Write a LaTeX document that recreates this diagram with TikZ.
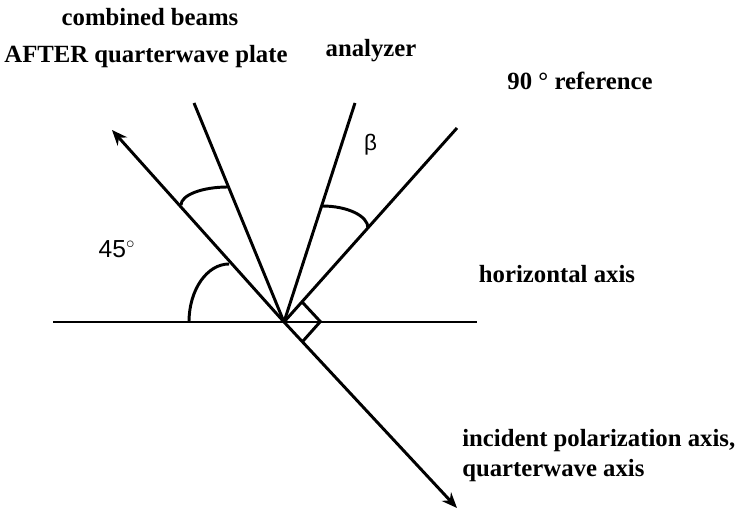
\documentclass[tikz,border=0pt]{standalone}
\usepackage{fontspec}
\setmainfont{Liberation Serif}
\newfontfamily\labsans{Liberation Sans}
\usetikzlibrary{arrows.meta,calc}

\begin{document}
\begin{tikzpicture}[x=0.025cm,y=0.025cm,
    ray/.style={line width=2.1pt},
    tip/.style={-{Stealth[length=11pt,width=9pt]}},
    lbl/.style={font=\fontsize{17.6}{20}\selectfont\bfseries,inner sep=0pt}]
    \useasboundingbox (0,0) rectangle (739,510);
    % centre and the ends of the axes
    \coordinate (O) at (284,188);
    \coordinate (hl) at (53,188);
    \coordinate (hr) at (477,188);
    \coordinate (inc) at (112,380);
    \coordinate (comb) at (194,407);
    \coordinate (anl) at (355,407);
    \coordinate (ref) at (457,382);
    \coordinate (qw) at (457,2);
    \draw[ray] (hl) -- (hr);
    \draw[ray,tip] (O) -- (inc);
    \draw[ray] (O) -- (comb);
    \draw[ray] (O) -- (anl);
    \draw[ray] (O) -- (ref);
    \draw[ray,tip] (O) -- (qw);
    % right angle and angle arcs
    \draw[ray] ($(O)+(48.3:27)$) -- ++(-47.1:27) -- ($(O)+(-47.1:27)$);
    \draw[ray] (189,188) arc[start angle=180,end angle=90,x radius=40,y radius=58];
    \draw[ray] (181,305) arc[start angle=180,end angle=90,x radius=47,y radius=18];
    \draw[ray] (322,304) arc[start angle=90,end angle=0,x radius=46,y radius=22];
    % labels
    \node[lbl,anchor=base] (cb1) at (150,484) {combined beams};
    \node[lbl,anchor=base] (cb2) at (146,447) {AFTER quarterwave plate};
    \node[lbl,anchor=base] (an) at (371,453) {analyzer};
    \node[lbl,anchor=base] (rf) at (580,420) {90 ° reference};
    \node[lbl,anchor=base] (hz) at (557,227) {horizontal axis};
    \node[lbl,anchor=base west] (ip1) at (462,63) {incident polarization axis,};
    \node[lbl,anchor=base west] (ip2) at (462,33) {quarterwave axis};
    \node[font=\labsans\fontsize{17.5}{20}\selectfont] (ang) at (117,261) {45$^{\circ}$};
    \node[font=\labsans\fontsize{16}{18}\selectfont] (bt) at (370.5,365) {β};
\end{tikzpicture}
\end{document}
